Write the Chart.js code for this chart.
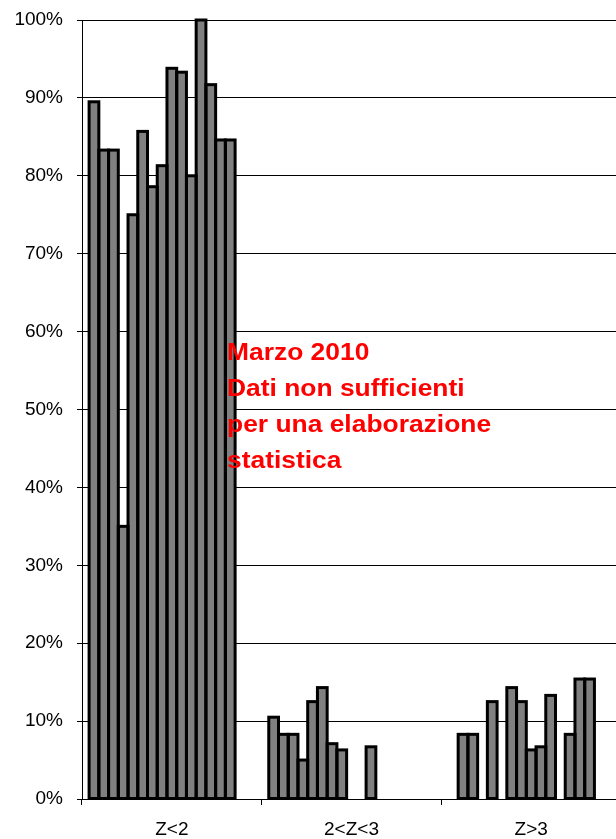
<!DOCTYPE html>
<html>
<head>
<meta charset="utf-8">
<script src="https://cdn.jsdelivr.net/npm/chart.js@4/dist/chart.umd.min.js"></script>
<style>
  html, body { margin: 0; padding: 0; overflow: hidden; background: #fff; }
  #wrap { width: 621px; height: 839px; }
</style>
</head>
<body>
<div id="wrap"><canvas id="c" width="621" height="839"></canvas></div>
<script>
// Categories (x axis)
const categories = ["Z<2", "2<Z<3", "Z>3"];
// One value per series (17 series) for each category, in percent; null = no bar
const valuesZless2   = [89.5, 83.3, 83.3, 35.0, 75.0, 85.7, 78.6, 81.3, 93.8, 93.3, 80.0, 100.0, 91.7, 84.6, 84.6, null, null];
const valuesZ2to3    = [10.5, 8.3, 8.3, 5.0, 12.5, 14.3, 7.1, 6.3, null, null, 6.7, null, null, null, null, null, null];
const valuesZgreater3 = [null, 8.3, 8.3, null, 12.5, null, 14.3, 12.5, 6.3, 6.7, 13.3, null, 8.3, 15.4, 15.4, null, null];
// Y tick values (percent)
const yTicks = [0, 10, 20, 30, 40, 50, 60, 70, 80, 90, 100];
// Annotation text
const noteLines = ["Marzo 2010", "Dati non sufficienti", "per una elaborazione", "statistica"];

const seriesCount = valuesZless2.length;
const datasets = [];
for (let s = 0; s < seriesCount; s++) {
  datasets.push({
    label: "Serie " + (s + 1),
    data: [valuesZless2[s], valuesZ2to3[s], valuesZgreater3[s]],
    backgroundColor: "#808080",
    borderWidth: 0,
    inflateAmount: 0,
    barPercentage: 1.0,
    categoryPercentage: 0.921
  });
}

// Excel-style outline: stroke centred on each bar's edges (adjacent bars share the line)
const outlinePlugin = {
  id: "outline",
  afterDatasetsDraw(chart) {
    const ctx = chart.ctx;
    ctx.save();
    ctx.strokeStyle = "#000000";
    ctx.lineWidth = 3;
    ctx.lineJoin = "miter";
    chart.getSortedVisibleDatasetMetas().forEach(meta => {
      meta.data.forEach((el, i) => {
        const raw = chart.data.datasets[meta.index].data[i];
        if (raw === null || raw === undefined) return;
        const p = el.getProps(["x", "y", "base", "width"], true);
        ctx.strokeRect(p.x - p.width / 2, p.y, p.width, p.base - p.y);
      });
    });
    // annotation text
    ctx.fillStyle = "#ff0000";
    ctx.font = "bold 24px 'Liberation Sans', Arial, sans-serif";
    ctx.textBaseline = "alphabetic";
    ctx.textAlign = "left";
    const x0 = 227, y0 = 360, lh = 36;
    noteLines.forEach((t, i) => {
      ctx.save();
      ctx.translate(x0, y0 + i * lh);
      ctx.scale(1.1, 1);
      ctx.fillText(t, 0, 0);
      ctx.restore();
    });
    ctx.restore();
  }
};

Chart.defaults.font.family = "'Liberation Sans', Arial, sans-serif";
Chart.defaults.color = "#000000";

new Chart(document.getElementById("c"), {
  type: "bar",
  data: { labels: categories, datasets: datasets },
  options: {
    responsive: false,
    devicePixelRatio: 1,
    animation: false,
    layout: { padding: { top: 20, right: 0, bottom: 0, left: 0 } },
    plugins: { legend: { display: false }, tooltip: { enabled: false }, title: { display: false } },
    scales: {
      x: {
        grid: { display: true, drawOnChartArea: false, drawTicks: true, tickLength: 6, color: "#000000", offset: true },
        border: { display: true, color: "#000000", width: 1 },
        ticks: { font: { size: 19 }, padding: 13, color: "#000000", maxRotation: 0 },
        afterFit(scale) { scale.height = 40; }
      },
      y: {
        min: 0, max: 100,
        afterBuildTicks(scale) { scale.ticks = yTicks.map(v => ({ value: v })); },
        ticks: { font: { size: 19 }, padding: 14, color: "#000000", callback: v => v + "%" },
        grid: { color: "#000000", lineWidth: 1, drawTicks: true, tickLength: 5 },
        border: { display: true, color: "#000000", width: 1 },
        afterFit(scale) { scale.width = 82; scale.paddingTop = 0; scale.paddingBottom = 0; }
      }
    }
  },
  plugins: [outlinePlugin]
});
</script>
</body>
</html>
